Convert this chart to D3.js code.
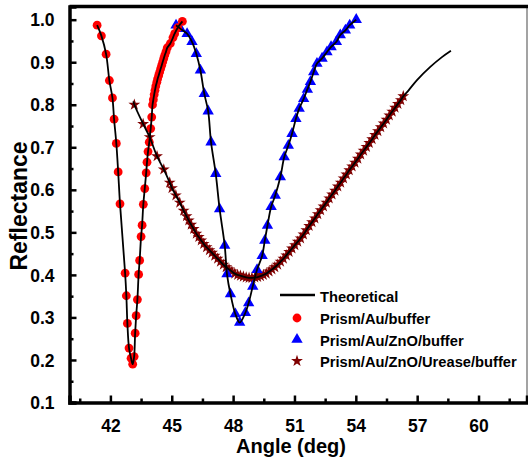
<!DOCTYPE html>
<html>
<head>
<meta charset="utf-8">
<script src="https://cdn.jsdelivr.net/npm/d3@7"></script>
<style>
  html, body { margin: 0; padding: 0; background: #fff; }
  svg { display: block; font-family: "Liberation Sans", Arial, sans-serif; }
</style>
</head>
<body>
<svg id="chart" width="528" height="463"></svg>
<script>
// SPR reflectance curves: angle (deg) vs reflectance

const xTicks = [42, 45, 48, 51, 54, 57, 60];
const xMinorTicks = [40.5, 43.5, 46.5, 49.5, 52.5, 55.5, 58.5, 61.5];
const yTicks = [0.1, 0.2, 0.3, 0.4, 0.5, 0.6, 0.7, 0.8, 0.9, 1.0];
const yMinorTicks = [0.15, 0.25, 0.35, 0.45, 0.55, 0.65, 0.75, 0.85, 0.95];

const seriesNames = ["Theoretical", "Prism/Au/buffer", "Prism/Au/ZnO/buffer", "Prism/Au/ZnO/Urease/buffer"];

// Prism/Au/buffer
const auAngle = [41.35, 41.56, 41.79, 41.95, 42.10, 42.18, 42.29, 42.38, 42.47, 42.72, 42.78, 42.83, 42.91, 43.01, 43.09, 43.16,
  43.21, 43.26, 43.32, 43.38, 43.43, 43.50, 43.55, 43.61, 43.68, 43.75, 43.79, 43.84, 43.90, 43.97, 44.02,
  44.06, 44.10, 44.14, 44.18, 44.22, 44.27, 44.31, 44.36, 44.41, 44.46, 44.51, 44.56, 44.61, 44.66, 44.72,
  44.78, 44.93, 45.06, 45.14, 45.29, 45.52];
const auR = [0.987, 0.962, 0.919, 0.857, 0.816, 0.766, 0.709, 0.642, 0.567, 0.404, 0.351, 0.286, 0.228, 0.204, 0.190, 0.208,
  0.263, 0.304, 0.342, 0.401, 0.434, 0.490, 0.517, 0.566, 0.603, 0.640, 0.665, 0.690, 0.712, 0.744, 0.771,
  0.800, 0.812, 0.824, 0.834, 0.844, 0.853, 0.861, 0.869, 0.877, 0.885, 0.893, 0.901, 0.909, 0.917, 0.925,
  0.934, 0.944, 0.958, 0.967, 0.981, 0.996];

// Prism/Au/ZnO/buffer
const znoAngle = [45.21, 45.42, 45.75, 45.99, 46.20, 46.40, 46.59, 46.78, 46.92, 47.15, 47.34, 47.59, 47.70, 47.87, 48.11, 48.32,
  48.60, 48.76, 48.96, 49.17, 49.42, 49.55, 49.68, 49.86, 50.06, 50.31, 50.50, 50.70, 50.88, 51.07, 51.23,
  51.45, 51.63, 51.78, 51.94, 52.10, 52.35, 52.59, 52.79, 53.05, 53.24, 53.49, 53.70, 54.02];
const znoR = [0.987, 0.979, 0.967, 0.948, 0.920, 0.881, 0.826, 0.785, 0.712, 0.638, 0.555, 0.469, 0.402, 0.355, 0.308, 0.288,
  0.311, 0.334, 0.373, 0.412, 0.445, 0.481, 0.516, 0.560, 0.587, 0.630, 0.677, 0.704, 0.732, 0.767, 0.791,
  0.814, 0.836, 0.854, 0.877, 0.897, 0.909, 0.924, 0.936, 0.948, 0.964, 0.975, 0.987, 1.000];

// Prism/Au/ZnO/Urease/buffer
const ureaseAngle = [43.17, 43.60, 43.92, 44.28, 44.61, 44.90, 45.01, 45.20, 45.39, 45.58, 45.72, 45.83, 45.95, 46.07, 46.20,
  46.32, 46.44, 46.56, 46.70, 46.84, 46.97, 47.10, 47.24, 47.38, 47.52, 47.66, 47.80, 47.94, 48.08, 48.22,
  48.36, 48.50, 48.64, 48.78, 48.92, 49.06, 49.20, 49.34, 49.48, 49.62, 49.76, 49.90, 50.04, 50.18, 50.32,
  50.46, 50.60, 50.74, 50.88, 51.02, 51.16, 51.30, 51.44, 51.58, 51.72, 51.86, 52.00, 52.14, 52.28, 52.42,
  52.56, 52.70, 52.84, 52.98, 53.12, 53.26, 53.40, 53.54, 53.68, 53.82, 53.96, 54.10, 54.24, 54.38, 54.52,
  54.66, 54.80, 54.94, 55.08, 55.22, 55.36, 55.50, 55.64, 55.78, 55.92, 56.06, 56.20, 56.32];
const ureaseR = [0.800, 0.755, 0.724, 0.679, 0.648, 0.617, 0.604, 0.587, 0.570, 0.551, 0.538, 0.528, 0.518, 0.508, 0.497,
  0.489, 0.481, 0.473, 0.465, 0.458, 0.452, 0.445, 0.438, 0.431, 0.424, 0.418, 0.413, 0.408, 0.403, 0.400,
  0.398, 0.396, 0.394, 0.393, 0.393, 0.394, 0.395, 0.397, 0.400, 0.403, 0.408, 0.413, 0.418, 0.424, 0.431,
  0.438, 0.446, 0.454, 0.462, 0.470, 0.478, 0.486, 0.495, 0.505, 0.515, 0.524, 0.533, 0.543, 0.552, 0.561,
  0.570, 0.580, 0.589, 0.598, 0.608, 0.617, 0.627, 0.636, 0.646, 0.655, 0.664, 0.673, 0.683, 0.692, 0.701,
  0.710, 0.719, 0.729, 0.738, 0.747, 0.756, 0.765, 0.775, 0.784, 0.793, 0.802, 0.811, 0.820];

// Fitted (theoretical) curve for the urease layer runs past the last measured point
const ureaseFitHeadAngle = [43.12];
const ureaseFitHeadR = [0.808];
const ureaseFitTailAngle = [56.58, 56.99, 57.64, 58.21, 58.65];
const ureaseFitTailR = [0.834, 0.858, 0.889, 0.912, 0.927];

const zip = (xs, ys) => xs.map((x, i) => ({ x, y: ys[i] }));
const auPts = zip(auAngle, auR);
const znoPts = zip(znoAngle, znoR);
const ureasePts = zip(ureaseAngle, ureaseR);
const theoryCurves = [
  auPts,
  znoPts,
  zip(ureaseFitHeadAngle, ureaseFitHeadR).concat(ureasePts, zip(ureaseFitTailAngle, ureaseFitTailR))
];

const svg = d3.select("#chart");
const plotL = 69.5, plotR = 527, plotT = 6.5, plotB = 402.5;

const x = d3.scaleLinear().domain([40, 62.37]).range([plotL, plotR]);
const y = d3.scaleLinear().domain([0.1, 1.031]).range([plotB, plotT]);

const starSize = 44, triSize = 56, dotR = 4.4;
const plot = svg.append("g");

// Markers
plot.append("g").selectAll("path")
  .data(ureasePts).join("path")
  .attr("transform", d => `translate(${x(d.x)},${y(d.y)})`)
  .attr("d", d3.symbol(d3.symbolStar, starSize))
  .attr("fill", "#800000");

plot.append("g").selectAll("path")
  .data(znoPts).join("path")
  .attr("transform", d => `translate(${x(d.x)},${y(d.y)})`)
  .attr("d", d3.symbol(d3.symbolTriangle, triSize))
  .attr("fill", "#0000ff");

plot.append("g").selectAll("circle")
  .data(auPts).join("circle")
  .attr("cx", d => x(d.x))
  .attr("cy", d => y(d.y))
  .attr("r", dotR)
  .attr("fill", "#ff0000");

// Theoretical curves
const line = d3.line().x(d => x(d.x)).y(d => y(d.y)).curve(d3.curveCatmullRom.alpha(0.5));
plot.append("g").selectAll("path")
  .data(theoryCurves).join("path")
  .attr("d", line)
  .attr("fill", "none")
  .attr("stroke", "#000")
  .attr("stroke-width", 1.8);

// Frame: thin grey right edge, heavy top edge
svg.append("line").attr("x1", plotR).attr("x2", plotR).attr("y1", plotT).attr("y2", plotB)
  .attr("stroke", "#666").attr("stroke-width", 1.2);
svg.append("line").attr("x1", plotL).attr("x2", plotR + 1).attr("y1", plotT).attr("y2", plotT)
  .attr("stroke", "#000").attr("stroke-width", 3.5);

// Bottom axis (ticks point inward)
const xAxis = svg.append("g").attr("transform", `translate(0,${plotB})`);
xAxis.call(d3.axisBottom(x).tickValues(xTicks).tickSize(-7).tickPadding(17).tickFormat(d3.format("d")));
const xMinor = svg.append("g").attr("transform", `translate(0,${plotB})`);
xMinor.call(d3.axisBottom(x).tickValues(xMinorTicks).tickSize(-4).tickFormat(""));

// Left axis (ticks point inward)
const yAxis = svg.append("g").attr("transform", `translate(${plotL},0)`);
yAxis.call(d3.axisLeft(y).tickValues(yTicks).tickSize(-7).tickPadding(15).tickFormat(d3.format(".1f")));
const yMinor = svg.append("g").attr("transform", `translate(${plotL},0)`);
yMinor.call(d3.axisLeft(y).tickValues(yMinorTicks).tickSize(-4).tickFormat(""));

svg.selectAll(".domain").attr("stroke", "#000").attr("stroke-width", 3.5);
[xMinor, yMinor].forEach(g => g.select(".domain").remove());
svg.selectAll(".tick line").attr("stroke", "#000").attr("stroke-width", 2.5);
svg.selectAll(".tick text")
  .attr("font-family", "Liberation Sans, Arial, sans-serif")
  .attr("font-size", 17.5).attr("font-weight", "bold").attr("fill", "#000");
yAxis.selectAll(".tick text").attr("dy", "0.35em");

// Axis titles
svg.append("text")
  .attr("x", 291).attr("y", 453)
  .attr("text-anchor", "middle")
  .attr("font-size", 20).attr("font-weight", "bold")
  .text("Angle (deg)");
svg.append("text")
  .attr("transform", "translate(27,206) rotate(-90)")
  .attr("text-anchor", "middle")
  .attr("font-size", 23).attr("font-weight", "bold")
  .text("Reflectance");

// Legend
const legend = svg.append("g");
const lgX = 297, textX = 320, baselines = [302, 324, 345.5, 367];
legend.append("line")
  .attr("x1", lgX - 17).attr("x2", lgX + 18)
  .attr("y1", baselines[0] - 7).attr("y2", baselines[0] - 7)
  .attr("stroke", "#000").attr("stroke-width", 2.5);
legend.append("circle").attr("cx", lgX).attr("cy", baselines[1] - 6).attr("r", dotR).attr("fill", "#ff0000");
legend.append("path").attr("transform", `translate(${lgX},${baselines[2] - 6})`)
  .attr("d", d3.symbol(d3.symbolTriangle, triSize)).attr("fill", "#0000ff");
legend.append("path").attr("transform", `translate(${lgX},${baselines[3] - 6})`)
  .attr("d", d3.symbol(d3.symbolStar, starSize)).attr("fill", "#800000");
legend.selectAll("text.lg")
  .data(seriesNames).join("text")
  .attr("class", "lg")
  .attr("x", textX).attr("y", (d, i) => baselines[i])
  .attr("font-size", 14.7).attr("font-weight", "bold")
  .text(d => d);
</script>
</body>
</html>
